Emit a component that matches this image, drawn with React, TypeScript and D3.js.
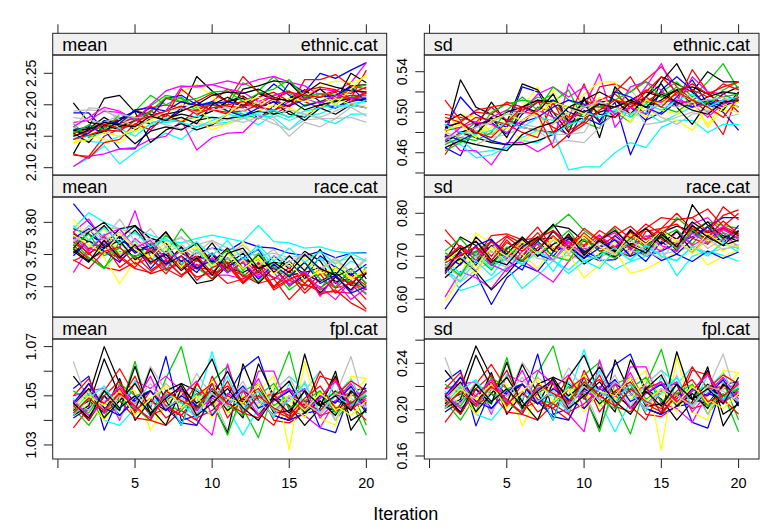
import React from "react";
import * as d3 from "d3";

// ---------- data ----------
const iterations = [1, 2, 3, 4, 5, 6, 7, 8, 9, 10, 11, 12, 13, 14, 15, 16, 17, 18, 19, 20];
const chainColors = ["#000000", "#FF0000", "#00CD00", "#0000FF", "#00FFFF", "#FF00FF", "#FFFF00", "#BEBEBE", "#000000", "#FF0000"];
const xTicks = [0, 5, 10, 15, 20];
const xTickLabels = ["", "5", "10", "15", "20"];

const meanEthnic: number[][] = [
  [2.203,2.172,2.168,2.176,2.160,2.178,2.185,2.190,2.245,2.222,2.205,2.214,2.198,2.190,2.210,2.224,2.205,2.214,2.230,2.232],
  [2.120,2.118,2.150,2.162,2.175,2.190,2.180,2.172,2.182,2.205,2.225,2.212,2.200,2.185,2.198,2.215,2.225,2.206,2.210,2.255],
  [2.165,2.150,2.163,2.180,2.175,2.198,2.215,2.210,2.190,2.205,2.200,2.235,2.222,2.245,2.218,2.205,2.216,2.200,2.225,2.220],
  [2.187,2.187,2.160,2.130,2.130,2.165,2.175,2.195,2.205,2.190,2.205,2.200,2.178,2.198,2.235,2.220,2.250,2.242,2.255,2.267],
  [2.102,2.115,2.135,2.106,2.125,2.140,2.155,2.145,2.165,2.170,2.172,2.180,2.168,2.185,2.175,2.185,2.178,2.170,2.185,2.185],
  [2.102,2.118,2.122,2.130,2.132,2.145,2.150,2.175,2.128,2.148,2.155,2.156,2.180,2.190,2.205,2.212,2.225,2.222,2.235,2.267],
  [2.140,2.155,2.158,2.170,2.168,2.175,2.190,2.220,2.232,2.215,2.185,2.210,2.202,2.220,2.205,2.212,2.230,2.238,2.235,2.245],
  [2.190,2.192,2.190,2.180,2.178,2.185,2.172,2.180,2.170,2.166,2.170,2.178,2.185,2.176,2.150,2.172,2.165,2.178,2.180,2.172],
  [2.122,2.165,2.210,2.215,2.188,2.140,2.160,2.170,2.160,2.168,2.185,2.225,2.230,2.238,2.235,2.210,2.225,2.205,2.250,2.235],
  [2.155,2.162,2.172,2.176,2.190,2.198,2.180,2.225,2.205,2.218,2.205,2.245,2.220,2.210,2.195,2.240,2.240,2.248,2.230,2.225],
  [2.158,2.162,2.180,2.165,2.175,2.170,2.178,2.185,2.180,2.190,2.205,2.210,2.195,2.205,2.185,2.180,2.200,2.195,2.210,2.205],
  [2.150,2.158,2.165,2.170,2.180,2.195,2.200,2.195,2.190,2.192,2.188,2.190,2.200,2.215,2.222,2.205,2.195,2.210,2.215,2.215],
  [2.170,2.148,2.156,2.170,2.190,2.215,2.200,2.212,2.195,2.200,2.190,2.185,2.178,2.190,2.180,2.200,2.205,2.208,2.212,2.215],
  [2.160,2.165,2.155,2.178,2.190,2.180,2.210,2.215,2.200,2.202,2.205,2.198,2.210,2.233,2.215,2.198,2.205,2.195,2.205,2.210],
  [2.150,2.142,2.140,2.150,2.158,2.168,2.172,2.175,2.182,2.180,2.176,2.190,2.183,2.180,2.160,2.182,2.186,2.196,2.202,2.205],
  [2.172,2.175,2.190,2.188,2.175,2.180,2.190,2.228,2.230,2.232,2.238,2.232,2.240,2.245,2.236,2.230,2.215,2.210,2.225,2.218],
  [2.138,2.152,2.145,2.140,2.158,2.168,2.180,2.175,2.178,2.160,2.170,2.182,2.190,2.200,2.195,2.185,2.195,2.210,2.200,2.198],
  [2.160,2.195,2.193,2.176,2.166,2.175,2.168,2.162,2.165,2.170,2.178,2.172,2.180,2.170,2.160,2.176,2.178,2.178,2.196,2.182],
  [2.155,2.140,2.168,2.160,2.138,2.158,2.165,2.160,2.175,2.180,2.178,2.182,2.190,2.185,2.190,2.175,2.195,2.185,2.200,2.195],
  [2.122,2.115,2.140,2.145,2.170,2.160,2.185,2.172,2.192,2.200,2.198,2.195,2.212,2.220,2.205,2.222,2.228,2.224,2.210,2.218],
  [2.160,2.150,2.158,2.175,2.190,2.185,2.175,2.180,2.170,2.200,2.212,2.198,2.218,2.208,2.208,2.192,2.200,2.205,2.210,2.208],
  [2.152,2.155,2.170,2.162,2.168,2.190,2.210,2.204,2.200,2.192,2.185,2.200,2.196,2.192,2.200,2.210,2.215,2.222,2.218,2.228],
  [2.155,2.168,2.160,2.185,2.178,2.188,2.212,2.205,2.210,2.220,2.222,2.205,2.218,2.225,2.240,2.212,2.218,2.215,2.225,2.232],
  [2.145,2.155,2.175,2.170,2.192,2.195,2.190,2.205,2.198,2.205,2.190,2.182,2.195,2.205,2.198,2.208,2.212,2.215,2.228,2.205],
  [2.146,2.150,2.155,2.162,2.150,2.170,2.178,2.172,2.165,2.175,2.185,2.180,2.188,2.192,2.180,2.190,2.195,2.200,2.196,2.208],
  [2.165,2.180,2.196,2.190,2.175,2.200,2.222,2.230,2.228,2.232,2.225,2.220,2.205,2.215,2.220,2.210,2.202,2.215,2.210,2.212],
  [2.140,2.145,2.156,2.150,2.162,2.175,2.190,2.200,2.198,2.170,2.185,2.205,2.212,2.195,2.210,2.205,2.215,2.200,2.225,2.248],
  [2.180,2.176,2.170,2.185,2.180,2.178,2.190,2.195,2.188,2.192,2.195,2.190,2.205,2.180,2.192,2.185,2.180,2.190,2.200,2.195],
  [2.150,2.160,2.172,2.168,2.165,2.182,2.175,2.190,2.200,2.215,2.220,2.218,2.225,2.212,2.205,2.218,2.235,2.228,2.222,2.220],
  [2.145,2.152,2.160,2.158,2.175,2.182,2.190,2.198,2.185,2.195,2.200,2.205,2.195,2.210,2.220,2.215,2.212,2.220,2.205,2.222],
];

const sdEthnic: number[][] = [
  [0.475,0.532,0.505,0.498,0.492,0.485,0.482,0.480,0.488,0.495,0.510,0.512,0.505,0.515,0.535,0.528,0.520,0.505,0.518,0.525],
  [0.458,0.480,0.482,0.478,0.490,0.500,0.498,0.485,0.478,0.492,0.525,0.528,0.520,0.532,0.545,0.525,0.512,0.500,0.478,0.520],
  [0.472,0.478,0.490,0.470,0.485,0.505,0.515,0.510,0.522,0.490,0.484,0.525,0.495,0.508,0.520,0.530,0.515,0.530,0.548,0.522],
  [0.465,0.457,0.488,0.492,0.485,0.525,0.520,0.495,0.475,0.502,0.492,0.510,0.458,0.492,0.500,0.515,0.532,0.508,0.500,0.482],
  [0.470,0.473,0.460,0.462,0.465,0.472,0.470,0.480,0.443,0.446,0.446,0.460,0.470,0.465,0.485,0.492,0.492,0.480,0.488,0.488],
  [0.478,0.462,0.462,0.448,0.470,0.470,0.461,0.470,0.528,0.505,0.538,0.485,0.505,0.525,0.548,0.515,0.505,0.508,0.512,0.505],
  [0.495,0.488,0.478,0.485,0.492,0.505,0.525,0.490,0.498,0.518,0.530,0.530,0.500,0.505,0.495,0.492,0.482,0.505,0.502,0.500],
  [0.480,0.475,0.482,0.478,0.490,0.488,0.485,0.478,0.478,0.480,0.505,0.500,0.522,0.505,0.495,0.488,0.498,0.500,0.510,0.515],
  [0.488,0.480,0.485,0.510,0.490,0.528,0.522,0.500,0.480,0.515,0.475,0.525,0.510,0.498,0.530,0.548,0.520,0.540,0.530,0.530],
  [0.512,0.492,0.500,0.498,0.510,0.505,0.512,0.480,0.495,0.528,0.490,0.520,0.535,0.510,0.520,0.510,0.542,0.520,0.515,0.500],
  [0.470,0.480,0.475,0.470,0.468,0.468,0.472,0.478,0.490,0.495,0.500,0.505,0.512,0.520,0.515,0.522,0.525,0.518,0.508,0.515],
  [0.485,0.490,0.502,0.505,0.492,0.488,0.505,0.500,0.492,0.512,0.505,0.500,0.510,0.522,0.516,0.508,0.512,0.520,0.505,0.512],
  [0.462,0.470,0.478,0.500,0.508,0.512,0.510,0.518,0.485,0.500,0.508,0.500,0.490,0.512,0.505,0.500,0.512,0.508,0.522,0.530],
  [0.482,0.515,0.498,0.490,0.478,0.498,0.510,0.512,0.500,0.495,0.488,0.498,0.505,0.492,0.522,0.535,0.522,0.505,0.512,0.505],
  [0.475,0.468,0.455,0.458,0.465,0.475,0.482,0.478,0.488,0.492,0.498,0.502,0.495,0.500,0.490,0.498,0.505,0.512,0.505,0.510],
  [0.492,0.478,0.485,0.495,0.502,0.500,0.518,0.525,0.515,0.525,0.505,0.500,0.525,0.530,0.522,0.505,0.535,0.520,0.518,0.510],
  [0.478,0.498,0.495,0.480,0.485,0.472,0.480,0.522,0.495,0.495,0.505,0.512,0.510,0.495,0.502,0.498,0.510,0.488,0.508,0.505],
  [0.470,0.472,0.468,0.475,0.478,0.485,0.482,0.470,0.472,0.470,0.485,0.500,0.508,0.488,0.490,0.495,0.500,0.502,0.495,0.498],
  [0.485,0.490,0.478,0.495,0.475,0.505,0.500,0.518,0.490,0.512,0.520,0.512,0.498,0.515,0.528,0.505,0.488,0.510,0.502,0.520],
  [0.482,0.485,0.495,0.492,0.488,0.480,0.475,0.510,0.482,0.490,0.512,0.518,0.505,0.520,0.535,0.520,0.528,0.518,0.525,0.530],
  [0.490,0.498,0.488,0.492,0.500,0.505,0.512,0.510,0.505,0.512,0.498,0.495,0.510,0.505,0.512,0.522,0.508,0.515,0.520,0.518],
  [0.498,0.495,0.490,0.505,0.508,0.502,0.510,0.508,0.495,0.500,0.508,0.495,0.505,0.512,0.510,0.518,0.522,0.515,0.528,0.522],
  [0.468,0.475,0.472,0.480,0.502,0.515,0.502,0.525,0.512,0.505,0.505,0.512,0.520,0.530,0.515,0.525,0.505,0.510,0.515,0.518],
  [0.478,0.472,0.480,0.472,0.468,0.490,0.495,0.505,0.512,0.508,0.490,0.520,0.515,0.505,0.498,0.510,0.505,0.512,0.505,0.512],
  [0.488,0.480,0.478,0.482,0.490,0.485,0.495,0.492,0.505,0.500,0.495,0.502,0.498,0.508,0.502,0.512,0.518,0.505,0.512,0.515],
  [0.472,0.485,0.490,0.488,0.480,0.492,0.502,0.495,0.490,0.505,0.512,0.498,0.505,0.498,0.510,0.512,0.508,0.495,0.508,0.512],
  [0.482,0.488,0.475,0.492,0.498,0.492,0.500,0.510,0.505,0.498,0.515,0.505,0.490,0.512,0.508,0.520,0.512,0.485,0.505,0.510],
  [0.475,0.478,0.485,0.490,0.498,0.500,0.495,0.488,0.500,0.505,0.510,0.505,0.498,0.502,0.508,0.505,0.510,0.512,0.515,0.505],
  [0.465,0.472,0.468,0.465,0.462,0.478,0.485,0.490,0.505,0.500,0.508,0.505,0.512,0.505,0.518,0.510,0.502,0.498,0.510,0.512],
  [0.495,0.490,0.480,0.475,0.490,0.505,0.498,0.465,0.478,0.488,0.502,0.512,0.508,0.515,0.505,0.520,0.512,0.505,0.495,0.515],
];

const meanRace: number[][] = [
  [3.782,3.770,3.760,3.778,3.755,3.765,3.745,3.735,3.748,3.738,3.730,3.722,3.735,3.728,3.718,3.722,3.730,3.708,3.712,3.720],
  [3.740,3.752,3.730,3.725,3.738,3.720,3.728,3.735,3.715,3.722,3.728,3.718,3.705,3.712,3.680,3.705,3.692,3.692,3.690,3.665],
  [3.760,3.745,3.730,3.755,3.748,3.752,3.780,3.760,3.740,3.752,3.725,3.738,3.742,3.722,3.695,3.712,3.720,3.715,3.708,3.700],
  [3.829,3.800,3.775,3.770,3.765,3.755,3.750,3.740,3.752,3.760,3.755,3.770,3.762,3.760,3.752,3.748,3.755,3.745,3.752,3.753],
  [3.790,3.815,3.800,3.790,3.792,3.780,3.772,3.768,3.775,3.780,3.775,3.770,3.795,3.770,3.768,3.760,3.762,3.755,3.752,3.752],
  [3.722,3.760,3.752,3.760,3.818,3.745,3.725,3.740,3.728,3.718,3.718,3.712,3.722,3.715,3.705,3.712,3.700,3.680,3.710,3.688],
  [3.795,3.770,3.745,3.705,3.740,3.755,3.740,3.732,3.745,3.730,3.738,3.770,3.740,3.732,3.738,3.730,3.718,3.725,3.712,3.722],
  [3.768,3.790,3.792,3.790,3.782,3.775,3.770,3.775,3.765,3.772,3.760,3.755,3.748,3.752,3.745,3.750,3.742,3.738,3.745,3.740],
  [3.790,3.782,3.765,3.790,3.795,3.775,3.768,3.735,3.705,3.710,3.732,3.745,3.728,3.738,3.735,3.720,3.708,3.722,3.702,3.730],
  [3.765,3.742,3.755,3.745,3.728,3.722,3.740,3.718,3.730,3.726,3.705,3.712,3.730,3.695,3.710,3.702,3.698,3.715,3.705,3.725],
  [3.752,3.772,3.795,3.765,3.788,3.760,3.785,3.752,3.740,3.768,3.735,3.752,3.722,3.748,3.728,3.755,3.740,3.705,3.722,3.695],
  [3.775,3.750,3.772,3.740,3.762,3.735,3.755,3.728,3.748,3.722,3.745,3.715,3.738,3.712,3.730,3.705,3.728,3.698,3.718,3.702],
  [3.770,3.745,3.728,3.770,3.742,3.758,3.725,3.762,3.730,3.712,3.745,3.720,3.708,3.735,3.700,3.722,3.695,3.732,3.705,3.690],
  [3.748,3.772,3.755,3.738,3.765,3.728,3.755,3.740,3.722,3.752,3.730,3.745,3.758,3.722,3.740,3.712,3.748,3.730,3.718,3.735],
  [3.780,3.760,3.782,3.750,3.772,3.740,3.762,3.735,3.758,3.728,3.752,3.738,3.760,3.732,3.748,3.725,3.745,3.718,3.740,3.728],
  [3.785,3.805,3.770,3.745,3.775,3.755,3.732,3.762,3.740,3.752,3.722,3.745,3.718,3.735,3.710,3.725,3.685,3.718,3.692,3.722],
  [3.805,3.772,3.790,3.752,3.768,3.745,3.760,3.730,3.762,3.738,3.722,3.742,3.715,3.735,3.712,3.745,3.720,3.730,3.712,3.725],
  [3.772,3.795,3.775,3.805,3.770,3.790,3.762,3.778,3.752,3.772,3.750,3.765,3.742,3.758,3.730,3.752,3.728,3.745,3.722,3.742],
  [3.760,3.785,3.800,3.775,3.795,3.762,3.785,3.752,3.768,3.738,3.760,3.728,3.750,3.722,3.748,3.725,3.758,3.715,3.728,3.705],
  [3.785,3.758,3.778,3.748,3.730,3.762,3.728,3.715,3.742,3.718,3.732,3.705,3.735,3.700,3.725,3.695,3.720,3.690,3.708,3.695],
  [3.758,3.740,3.760,3.772,3.742,3.755,3.735,3.762,3.728,3.750,3.722,3.738,3.705,3.730,3.702,3.718,3.690,3.715,3.695,3.722],
  [3.770,3.752,3.765,3.730,3.748,3.725,3.742,3.718,3.735,3.712,3.738,3.708,3.725,3.700,3.718,3.690,3.712,3.698,3.705,3.680],
  [3.765,3.782,3.748,3.760,3.745,3.768,3.752,3.790,3.762,3.735,3.758,3.725,3.752,3.730,3.718,3.738,3.712,3.700,3.728,3.705],
  [3.775,3.790,3.762,3.778,3.752,3.765,3.735,3.748,3.728,3.742,3.722,3.738,3.712,3.735,3.715,3.738,3.705,3.718,3.690,3.700],
  [3.795,3.772,3.792,3.768,3.785,3.762,3.775,3.755,3.770,3.748,3.772,3.742,3.765,3.740,3.760,3.738,3.755,3.735,3.752,3.740],
  [3.778,3.755,3.780,3.790,3.760,3.772,3.742,3.755,3.732,3.745,3.722,3.738,3.715,3.728,3.702,3.722,3.695,3.708,3.680,3.698],
  [3.780,3.765,3.752,3.782,3.758,3.745,3.770,3.752,3.762,3.732,3.752,3.728,3.745,3.720,3.738,3.710,3.725,3.742,3.712,3.728],
  [3.770,3.788,3.772,3.785,3.762,3.775,3.752,3.765,3.748,3.760,3.742,3.755,3.732,3.748,3.738,3.752,3.725,3.742,3.722,3.745],
  [3.755,3.738,3.772,3.745,3.765,3.738,3.750,3.725,3.745,3.718,3.752,3.760,3.728,3.738,3.722,3.750,3.728,3.718,3.748,3.712],
  [3.742,3.728,3.755,3.762,3.735,3.745,3.720,3.748,3.710,3.730,3.738,3.705,3.725,3.698,3.712,3.720,3.688,3.695,3.675,3.662],
];

const sdRace: number[][] = [
  [0.690,0.745,0.725,0.680,0.695,0.728,0.742,0.772,0.765,0.735,0.720,0.710,0.728,0.742,0.755,0.770,0.758,0.740,0.738,0.745],
  [0.762,0.720,0.700,0.748,0.752,0.738,0.742,0.760,0.730,0.748,0.712,0.722,0.735,0.765,0.790,0.785,0.790,0.810,0.770,0.800],
  [0.708,0.690,0.712,0.735,0.705,0.720,0.742,0.768,0.798,0.760,0.735,0.715,0.700,0.722,0.745,0.790,0.760,0.780,0.772,0.765],
  [0.577,0.630,0.660,0.588,0.650,0.680,0.665,0.710,0.725,0.705,0.690,0.692,0.720,0.700,0.712,0.730,0.745,0.770,0.790,0.790],
  [0.680,0.620,0.632,0.648,0.675,0.625,0.655,0.690,0.668,0.700,0.695,0.670,0.688,0.700,0.715,0.655,0.700,0.712,0.702,0.688],
  [0.605,0.665,0.650,0.625,0.672,0.690,0.665,0.640,0.688,0.718,0.722,0.700,0.712,0.745,0.760,0.738,0.775,0.790,0.755,0.720],
  [0.595,0.650,0.755,0.730,0.700,0.690,0.702,0.715,0.705,0.650,0.680,0.710,0.660,0.670,0.690,0.710,0.722,0.680,0.700,0.715],
  [0.660,0.640,0.668,0.688,0.675,0.705,0.712,0.695,0.702,0.690,0.698,0.712,0.705,0.720,0.705,0.712,0.725,0.708,0.718,0.722],
  [0.670,0.695,0.665,0.622,0.658,0.700,0.740,0.742,0.718,0.682,0.705,0.718,0.758,0.730,0.760,0.740,0.780,0.755,0.765,0.748],
  [0.700,0.705,0.710,0.722,0.748,0.730,0.768,0.718,0.740,0.722,0.750,0.710,0.700,0.758,0.765,0.800,0.762,0.755,0.815,0.785],
  [0.650,0.682,0.745,0.710,0.700,0.690,0.735,0.775,0.722,0.740,0.712,0.698,0.730,0.715,0.760,0.712,0.820,0.772,0.748,0.735],
  [0.738,0.705,0.722,0.690,0.738,0.700,0.745,0.712,0.735,0.698,0.742,0.718,0.755,0.722,0.748,0.728,0.765,0.735,0.770,0.752],
  [0.712,0.742,0.700,0.668,0.715,0.745,0.705,0.728,0.760,0.712,0.738,0.765,0.720,0.705,0.745,0.762,0.728,0.770,0.740,0.758],
  [0.672,0.710,0.685,0.725,0.690,0.668,0.735,0.700,0.742,0.712,0.695,0.748,0.718,0.688,0.735,0.705,0.740,0.768,0.730,0.772],
  [0.690,0.660,0.705,0.672,0.708,0.682,0.712,0.665,0.718,0.690,0.672,0.715,0.692,0.728,0.700,0.690,0.722,0.700,0.735,0.708],
  [0.690,0.725,0.700,0.735,0.695,0.742,0.712,0.760,0.728,0.705,0.748,0.722,0.762,0.730,0.712,0.758,0.725,0.745,0.770,0.738],
  [0.665,0.690,0.658,0.720,0.688,0.705,0.672,0.722,0.690,0.742,0.700,0.735,0.710,0.745,0.718,0.740,0.705,0.738,0.712,0.740],
  [0.678,0.652,0.700,0.712,0.680,0.735,0.700,0.738,0.705,0.728,0.690,0.742,0.715,0.700,0.738,0.722,0.752,0.718,0.742,0.725],
  [0.690,0.720,0.678,0.738,0.705,0.745,0.712,0.758,0.722,0.695,0.740,0.710,0.762,0.728,0.745,0.715,0.755,0.780,0.742,0.760],
  [0.672,0.712,0.735,0.700,0.745,0.718,0.755,0.712,0.748,0.725,0.760,0.738,0.720,0.765,0.740,0.722,0.770,0.745,0.782,0.752],
  [0.660,0.700,0.722,0.685,0.718,0.740,0.700,0.728,0.745,0.708,0.735,0.712,0.742,0.765,0.728,0.758,0.712,0.750,0.725,0.738],
  [0.695,0.725,0.690,0.735,0.712,0.688,0.720,0.748,0.715,0.755,0.722,0.748,0.770,0.738,0.765,0.775,0.742,0.728,0.765,0.748],
  [0.682,0.655,0.710,0.678,0.722,0.690,0.732,0.700,0.690,0.740,0.712,0.695,0.745,0.720,0.752,0.715,0.762,0.730,0.755,0.742],
  [0.700,0.680,0.725,0.740,0.700,0.735,0.705,0.690,0.728,0.695,0.720,0.738,0.700,0.715,0.690,0.705,0.688,0.712,0.695,0.710],
  [0.670,0.642,0.690,0.655,0.700,0.680,0.712,0.690,0.660,0.688,0.702,0.720,0.690,0.725,0.700,0.690,0.722,0.705,0.730,0.718],
  [0.662,0.705,0.720,0.680,0.665,0.712,0.728,0.690,0.735,0.702,0.738,0.755,0.715,0.748,0.725,0.712,0.755,0.730,0.762,0.742],
  [0.688,0.715,0.675,0.722,0.700,0.735,0.705,0.742,0.710,0.750,0.722,0.705,0.752,0.728,0.760,0.735,0.712,0.752,0.728,0.722],
  [0.675,0.700,0.668,0.712,0.688,0.725,0.695,0.690,0.728,0.700,0.732,0.705,0.738,0.712,0.695,0.735,0.708,0.742,0.715,0.728],
  [0.665,0.715,0.735,0.692,0.680,0.722,0.745,0.712,0.752,0.702,0.738,0.760,0.725,0.708,0.752,0.722,0.772,0.745,0.725,0.758],
  [0.685,0.702,0.722,0.690,0.732,0.712,0.742,0.760,0.722,0.765,0.738,0.770,0.742,0.775,0.752,0.785,0.790,0.758,0.795,0.808],
];

const meanFpl: number[][] = [
  [1.058,1.050,1.070,1.055,1.047,1.052,1.045,1.048,1.044,1.050,1.047,1.052,1.048,1.042,1.040,1.048,1.046,1.052,1.047,1.050],
  [1.037,1.045,1.052,1.061,1.050,1.042,1.045,1.042,1.038,1.050,1.054,1.047,1.052,1.040,1.039,1.043,1.058,1.056,1.044,1.050],
  [1.045,1.038,1.047,1.044,1.064,1.041,1.057,1.070,1.045,1.056,1.062,1.045,1.033,1.052,1.068,1.044,1.052,1.040,1.048,1.034],
  [1.053,1.058,1.036,1.050,1.048,1.045,1.066,1.040,1.042,1.055,1.050,1.061,1.066,1.048,1.052,1.052,1.037,1.035,1.052,1.053],
  [1.044,1.051,1.040,1.038,1.045,1.047,1.050,1.042,1.047,1.068,1.045,1.034,1.045,1.052,1.058,1.052,1.060,1.050,1.057,1.045],
  [1.050,1.052,1.053,1.040,1.056,1.053,1.058,1.052,1.040,1.034,1.063,1.042,1.060,1.060,1.044,1.042,1.037,1.048,1.050,1.052],
  [1.041,1.047,1.040,1.053,1.052,1.036,1.047,1.051,1.055,1.048,1.045,1.046,1.052,1.058,1.028,1.064,1.041,1.038,1.058,1.057],
  [1.064,1.046,1.048,1.050,1.045,1.062,1.052,1.047,1.059,1.050,1.036,1.048,1.047,1.052,1.041,1.056,1.042,1.050,1.066,1.044],
  [1.042,1.046,1.065,1.050,1.044,1.061,1.048,1.038,1.055,1.065,1.048,1.041,1.063,1.050,1.046,1.038,1.045,1.060,1.036,1.045],
  [1.045,1.055,1.045,1.048,1.058,1.043,1.048,1.053,1.041,1.044,1.050,1.047,1.043,1.038,1.050,1.046,1.060,1.050,1.051,1.048],
  [1.044,1.048,1.043,1.057,1.040,1.048,1.044,1.055,1.052,1.047,1.035,1.063,1.048,1.042,1.040,1.067,1.046,1.044,1.052,1.043],
  [1.050,1.057,1.043,1.048,1.041,1.040,1.038,1.044,1.040,1.058,1.046,1.052,1.049,1.051,1.040,1.047,1.042,1.044,1.045,1.048],
  [1.052,1.048,1.041,1.055,1.050,1.052,1.046,1.044,1.051,1.048,1.034,1.052,1.055,1.046,1.050,1.043,1.049,1.051,1.053,1.038],
  [1.041,1.045,1.050,1.042,1.048,1.052,1.045,1.039,1.038,1.050,1.047,1.053,1.048,1.042,1.040,1.043,1.044,1.048,1.046,1.052],
  [1.049,1.040,1.052,1.044,1.056,1.042,1.050,1.038,1.053,1.046,1.058,1.044,1.050,1.041,1.055,1.047,1.043,1.056,1.045,1.051],
  [1.046,1.055,1.043,1.052,1.047,1.058,1.044,1.050,1.056,1.042,1.051,1.047,1.057,1.044,1.049,1.053,1.041,1.048,1.055,1.046],
  [1.045,1.052,1.040,1.049,1.055,1.044,1.038,1.053,1.047,1.056,1.043,1.050,1.046,1.054,1.048,1.041,1.052,1.044,1.050,1.057],
  [1.048,1.044,1.053,1.041,1.050,1.046,1.055,1.049,1.042,1.051,1.047,1.056,1.043,1.052,1.058,1.045,1.050,1.040,1.053,1.047],
  [1.048,1.040,1.050,1.044,1.062,1.042,1.052,1.055,1.045,1.050,1.060,1.047,1.055,1.043,1.044,1.052,1.046,1.058,1.040,1.044],
  [1.042,1.050,1.047,1.053,1.044,1.049,1.041,1.045,1.055,1.046,1.056,1.043,1.041,1.050,1.053,1.045,1.049,1.057,1.046,1.040],
  [1.046,1.053,1.041,1.048,1.055,1.045,1.038,1.053,1.047,1.052,1.044,1.049,1.042,1.050,1.056,1.043,1.048,1.042,1.052,1.047],
  [1.046,1.040,1.050,1.056,1.043,1.052,1.046,1.042,1.050,1.055,1.041,1.049,1.053,1.044,1.041,1.047,1.044,1.050,1.056,1.052],
  [1.047,1.043,1.052,1.048,1.045,1.040,1.051,1.047,1.044,1.053,1.046,1.042,1.050,1.055,1.045,1.048,1.052,1.043,1.047,1.050],
  [1.047,1.055,1.045,1.042,1.049,1.052,1.044,1.050,1.046,1.042,1.048,1.054,1.045,1.048,1.052,1.044,1.050,1.047,1.054,1.044],
  [1.042,1.049,1.054,1.045,1.050,1.043,1.051,1.047,1.041,1.053,1.049,1.045,1.052,1.044,1.048,1.055,1.043,1.050,1.046,1.052],
  [1.048,1.042,1.047,1.054,1.045,1.041,1.050,1.053,1.044,1.049,1.046,1.052,1.042,1.048,1.053,1.044,1.049,1.056,1.045,1.049],
  [1.043,1.050,1.046,1.052,1.042,1.049,1.054,1.045,1.050,1.041,1.049,1.047,1.055,1.045,1.050,1.044,1.051,1.046,1.042,1.048],
  [1.046,1.052,1.044,1.050,1.047,1.055,1.045,1.049,1.043,1.051,1.046,1.053,1.048,1.042,1.050,1.047,1.043,1.051,1.049,1.045],
  [1.047,1.041,1.052,1.045,1.050,1.043,1.049,1.054,1.042,1.047,1.053,1.045,1.040,1.049,1.043,1.052,1.046,1.050,1.044,1.055],
  [1.043,1.049,1.044,1.051,1.046,1.040,1.052,1.048,1.045,1.053,1.047,1.043,1.050,1.045,1.042,1.049,1.054,1.045,1.047,1.052],
];

const sdFpl: number[][] = [
  [0.234,0.218,0.255,0.228,0.212,0.222,0.207,0.214,0.205,0.218,0.212,0.222,0.214,0.201,0.196,0.214,0.209,0.222,0.212,0.218],
  [0.189,0.207,0.222,0.239,0.218,0.201,0.207,0.201,0.191,0.218,0.226,0.212,0.222,0.196,0.194,0.203,0.234,0.230,0.205,0.218],
  [0.207,0.191,0.212,0.205,0.245,0.198,0.232,0.255,0.207,0.230,0.241,0.207,0.179,0.222,0.252,0.205,0.222,0.196,0.214,0.181],
  [0.224,0.234,0.186,0.218,0.214,0.207,0.248,0.196,0.201,0.228,0.218,0.239,0.248,0.214,0.222,0.222,0.189,0.184,0.222,0.224],
  [0.205,0.220,0.196,0.191,0.207,0.212,0.218,0.201,0.212,0.252,0.207,0.181,0.207,0.222,0.234,0.222,0.237,0.218,0.232,0.207],
  [0.218,0.222,0.224,0.196,0.230,0.224,0.234,0.222,0.196,0.181,0.243,0.201,0.237,0.237,0.205,0.201,0.189,0.214,0.218,0.222],
  [0.198,0.212,0.196,0.224,0.222,0.186,0.212,0.220,0.228,0.214,0.207,0.209,0.222,0.234,0.165,0.245,0.198,0.191,0.234,0.232],
  [0.245,0.209,0.214,0.218,0.207,0.241,0.222,0.212,0.236,0.218,0.186,0.214,0.212,0.222,0.198,0.230,0.201,0.218,0.248,0.205],
  [0.201,0.209,0.247,0.218,0.205,0.239,0.214,0.191,0.228,0.247,0.214,0.198,0.243,0.218,0.209,0.191,0.207,0.237,0.186,0.207],
  [0.207,0.228,0.207,0.214,0.234,0.203,0.214,0.224,0.198,0.205,0.218,0.212,0.203,0.191,0.218,0.209,0.237,0.218,0.220,0.214],
  [0.205,0.214,0.203,0.232,0.196,0.214,0.205,0.228,0.222,0.212,0.184,0.243,0.214,0.201,0.196,0.250,0.209,0.205,0.222,0.203],
  [0.218,0.232,0.203,0.214,0.198,0.196,0.191,0.205,0.196,0.234,0.209,0.222,0.216,0.220,0.196,0.212,0.201,0.205,0.207,0.214],
  [0.222,0.214,0.198,0.228,0.218,0.222,0.209,0.205,0.220,0.214,0.181,0.222,0.228,0.209,0.218,0.203,0.216,0.220,0.224,0.191],
  [0.198,0.207,0.218,0.201,0.214,0.222,0.207,0.194,0.191,0.218,0.212,0.224,0.214,0.201,0.196,0.203,0.205,0.214,0.209,0.222],
  [0.216,0.196,0.222,0.205,0.230,0.201,0.218,0.191,0.224,0.209,0.234,0.205,0.218,0.198,0.228,0.212,0.203,0.230,0.207,0.220],
  [0.209,0.228,0.203,0.222,0.212,0.234,0.205,0.218,0.230,0.201,0.220,0.212,0.232,0.205,0.216,0.224,0.198,0.214,0.228,0.209],
  [0.207,0.222,0.196,0.216,0.228,0.205,0.191,0.224,0.212,0.230,0.203,0.218,0.209,0.226,0.214,0.198,0.222,0.205,0.218,0.232],
  [0.214,0.205,0.224,0.198,0.218,0.209,0.228,0.216,0.201,0.220,0.212,0.230,0.203,0.222,0.234,0.207,0.218,0.196,0.224,0.212],
  [0.214,0.196,0.218,0.205,0.241,0.201,0.222,0.228,0.207,0.218,0.237,0.212,0.228,0.203,0.205,0.222,0.209,0.234,0.196,0.205],
  [0.201,0.218,0.212,0.224,0.205,0.216,0.198,0.207,0.228,0.209,0.230,0.203,0.198,0.218,0.224,0.207,0.216,0.232,0.209,0.196],
  [0.209,0.224,0.198,0.214,0.228,0.207,0.191,0.224,0.212,0.222,0.205,0.216,0.201,0.218,0.230,0.203,0.214,0.201,0.222,0.212],
  [0.209,0.196,0.218,0.230,0.203,0.222,0.209,0.201,0.218,0.228,0.198,0.216,0.224,0.205,0.198,0.212,0.205,0.218,0.230,0.222],
  [0.212,0.203,0.222,0.214,0.207,0.196,0.220,0.212,0.205,0.224,0.209,0.201,0.218,0.228,0.207,0.214,0.222,0.203,0.212,0.218],
  [0.212,0.228,0.207,0.201,0.216,0.222,0.205,0.218,0.209,0.201,0.214,0.226,0.207,0.214,0.222,0.205,0.218,0.212,0.226,0.205],
  [0.201,0.216,0.226,0.207,0.218,0.203,0.220,0.212,0.198,0.224,0.216,0.207,0.222,0.205,0.214,0.228,0.203,0.218,0.209,0.222],
  [0.214,0.201,0.212,0.226,0.207,0.198,0.218,0.224,0.205,0.216,0.209,0.222,0.201,0.214,0.224,0.205,0.216,0.230,0.207,0.216],
  [0.203,0.218,0.209,0.222,0.201,0.216,0.226,0.207,0.218,0.198,0.216,0.212,0.228,0.207,0.218,0.205,0.220,0.209,0.201,0.214],
  [0.209,0.222,0.205,0.218,0.212,0.228,0.207,0.216,0.203,0.220,0.209,0.224,0.214,0.201,0.218,0.212,0.203,0.220,0.216,0.207],
  [0.212,0.198,0.222,0.207,0.218,0.203,0.216,0.226,0.201,0.212,0.224,0.207,0.196,0.216,0.203,0.222,0.209,0.218,0.205,0.228],
  [0.203,0.216,0.205,0.220,0.209,0.196,0.222,0.214,0.207,0.224,0.212,0.203,0.218,0.207,0.201,0.216,0.226,0.207,0.212,0.222],
];

const statNames = ["mean", "sd"];
const variableNames = ["ethnic.cat", "race.cat", "fpl.cat"];

const yTicksMeanEthnic = [2.10, 2.15, 2.20, 2.25];
const yLabelsMeanEthnic = ["2.10", "2.15", "2.20", "2.25"];
const yTicksSdEthnic = [0.44, 0.46, 0.48, 0.50, 0.52, 0.54];
const yLabelsSdEthnic = ["", "0.46", "", "0.50", "", "0.54"];
const yTicksMeanRace = [3.70, 3.75, 3.80];
const yLabelsMeanRace = ["3.70", "3.75", "3.80"];
const yTicksSdRace = [0.60, 0.65, 0.70, 0.75, 0.80];
const yLabelsSdRace = ["0.60", "", "0.70", "", "0.80"];
const yTicksMeanFpl = [1.03, 1.04, 1.05, 1.06, 1.07];
const yLabelsMeanFpl = ["1.03", "", "1.05", "", "1.07"];
const yTicksSdFpl = [0.16, 0.18, 0.20, 0.22, 0.24, 0.26];
const yLabelsSdFpl = ["0.16", "", "0.20", "", "0.24", ""];

// ---------- layout ----------
const W = 774;
const H = 531;
const colX: [number, number][] = [[52.7, 386.7], [424.3, 759]];
const top0 = 33.3;
const rowStep = 142;
const stripH = 21.7;
const panelH = 120;
const xDomain: [number, number] = [-0.34, 21.32];
const tickLen = 9;
const font = "'Liberation Sans', Arial, Helvetica, sans-serif";

type PanelDef = {
  row: number;
  col: number;
  stat: string;
  variable: string;
  values: number[][];
  yDomain: [number, number];
  yTicks: number[];
  yLabels: string[];
};

const panels: PanelDef[] = [
  { row: 0, col: 0, stat: statNames[0], variable: variableNames[0], values: meanEthnic, yDomain: [2.0884, 2.2791], yTicks: yTicksMeanEthnic, yLabels: yLabelsMeanEthnic },
  { row: 0, col: 1, stat: statNames[1], variable: variableNames[0], values: sdEthnic, yDomain: [0.438, 0.5565], yTicks: yTicksSdEthnic, yLabels: yLabelsSdEthnic },
  { row: 1, col: 0, stat: statNames[0], variable: variableNames[1], values: meanRace, yDomain: [3.653, 3.8393], yTicks: yTicksMeanRace, yLabels: yLabelsMeanRace },
  { row: 1, col: 1, stat: statNames[1], variable: variableNames[1], values: sdRace, yDomain: [0.5588, 0.8379], yTicks: yTicksSdRace, yLabels: yLabelsSdRace },
  { row: 2, col: 0, stat: statNames[0], variable: variableNames[2], values: meanFpl, yDomain: [1.0243, 1.0731], yTicks: yTicksMeanFpl, yLabels: yLabelsMeanFpl },
  { row: 2, col: 1, stat: statNames[1], variable: variableNames[2], values: sdFpl, yDomain: [0.1574, 0.261], yTicks: yTicksSdFpl, yLabels: yLabelsSdFpl },
];

function Panel({ p }: { p: PanelDef }) {
  const [x0, x1] = colX[p.col];
  const stripTop = top0 + p.row * rowStep;
  const pTop = stripTop + stripH;
  const pBot = pTop + panelH;
  const x = d3.scaleLinear().domain(xDomain).range([x0, x1]);
  const y = d3.scaleLinear().domain(p.yDomain).range([pBot, pTop]);
  const line = d3
    .line<number>()
    .x((_, i) => x(iterations[i]))
    .y((d) => y(d));
  return (
    <g>
      <rect x={x0} y={pTop} width={x1 - x0} height={panelH} fill="#ffffff" />
      {p.values.map((chain, ci) => (
        <path
          key={ci}
          d={line(chain) || ""}
          fill="none"
          stroke={chainColors[ci % chainColors.length]}
          strokeWidth={1.25}
          strokeLinejoin="round"
        />
      ))}
      <rect x={x0} y={stripTop} width={x1 - x0} height={stripH} fill="#F0F0F0" stroke="#222" strokeWidth={1} />
      <rect x={x0} y={pTop} width={x1 - x0} height={panelH} fill="none" stroke="#222" strokeWidth={1} />
      <text x={x0 + 9.5} y={stripTop + 17.6} fontSize={18} fontFamily={font} fill="#000">{p.stat}</text>
      <text x={x1 - 9} y={stripTop + 17.6} fontSize={18} fontFamily={font} fill="#000" textAnchor="end">{p.variable}</text>
      {p.yTicks.map((t, i) => (
        <g key={"yt" + i}>
          <line x1={x0 - tickLen} x2={x0} y1={y(t)} y2={y(t)} stroke="#222" strokeWidth={1} />
          {p.yLabels[i] && (
            <text
              transform={`translate(${x0 - 17},${y(t)}) rotate(-90)`}
              textAnchor="middle"
              fontSize={14}
              fontFamily={font}
              fill="#000"
            >
              {p.yLabels[i]}
            </text>
          )}
        </g>
      ))}
      {p.row === 0 &&
        xTicks.map((t, i) => (
          <line key={"xtt" + i} x1={x(t)} x2={x(t)} y1={stripTop - tickLen} y2={stripTop} stroke="#222" strokeWidth={1} />
        ))}
      {p.row === 2 &&
        xTicks.map((t, i) => (
          <g key={"xtb" + i}>
            <line x1={x(t)} x2={x(t)} y1={pBot} y2={pBot + tickLen} stroke="#222" strokeWidth={1} />
            {xTickLabels[i] && (
              <text x={x(t)} y={pBot + 29} textAnchor="middle" fontSize={14.5} fontFamily={font} fill="#000">
                {xTickLabels[i]}
              </text>
            )}
          </g>
        ))}
    </g>
  );
}

export default function App() {
  return (
    <svg
      width={W}
      height={H}
      viewBox={`0 0 ${W} ${H}`}
      style={{ position: "absolute", left: 0, top: 0, background: "#ffffff" }}
    >
      <rect x={0} y={0} width={W} height={H} fill="#ffffff" />
      {panels.map((p, i) => (
        <Panel key={i} p={p} />
      ))}
      <text x={(colX[0][0] + colX[1][1]) / 2} y={520} textAnchor="middle" fontSize={18} fontFamily={font} fill="#000">
        Iteration
      </text>
    </svg>
  );
}
